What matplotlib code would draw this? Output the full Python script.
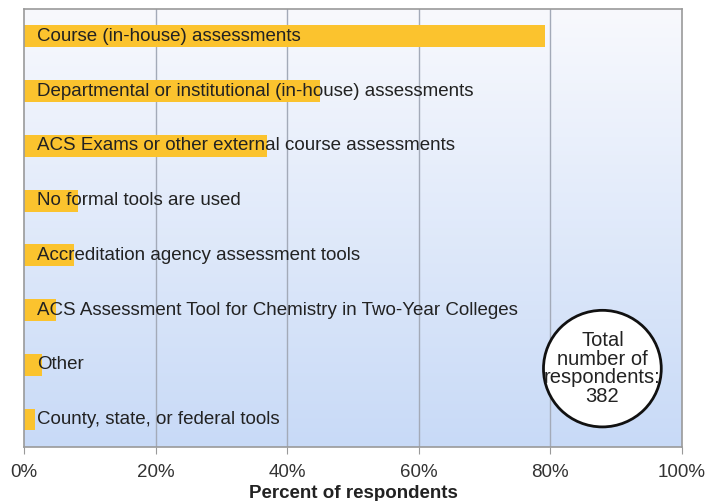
import matplotlib.pyplot as plt
import matplotlib.patches as mpatches
from matplotlib.colors import LinearSegmentedColormap
import numpy as np

plt.rcParams['font.family'] = ['Liberation Sans', 'DejaVu Sans']

categorias = [
    'Course (in-house) assessments',
    'Departmental or institutional (in-house) assessments',
    'ACS Exams or other external course assessments',
    'No formal tools are used',
    'Accreditation agency assessment tools',
    'ACS Assessment Tool for Chemistry in Two-Year Colleges',
    'Other',
    'County, state, or federal tools',
]
percentuais = [79.2, 45.0, 37.0, 8.2, 7.6, 4.9, 2.7, 1.7]
ticks_x = [0, 20, 40, 60, 80, 100]
tick_labels = ['0%', '20%', '40%', '60%', '80%', '100%']
total_resp = 382

fig = plt.figure(figsize=(7.06, 5.01), dpi=100)
ax = fig.add_axes([0.034, 0.108, 0.932, 0.874])

# fundo em degradê (branco em cima, azul claro embaixo)
grad = np.linspace(0, 1, 256).reshape(-1, 1)
cmap = LinearSegmentedColormap.from_list('fundo', ['#f8f9fd', '#c8daf7'])
ax.imshow(grad, aspect='auto', cmap=cmap, extent=[0, 100, 7.5, -0.5], zorder=0)

y = np.arange(len(categorias))
ax.barh(y, percentuais, height=0.4, color='#fbc32e', zorder=2)
for i, cat in enumerate(categorias):
    ax.text(2, y[i], cat, va='center', ha='left', fontsize=13.5, color='#222222', zorder=3)

ax.set_xlim(0, 100)
ax.set_ylim(7.5, -0.5)
ax.set_xticks(ticks_x)
ax.set_xticklabels(tick_labels, fontsize=13.5, color='#333333')
ax.set_yticks([])
ax.tick_params(axis='x', length=5, color='#999999', pad=7)
for x in ticks_x[1:-1]:
    ax.axvline(x, color='#a3aab8', linewidth=1, zorder=1)
for s in ax.spines.values():
    s.set_color('#9a9a9a')
    s.set_linewidth(1.2)

ax.set_xlabel('Percent of respondents', fontsize=13.5, fontweight='bold', color='#222222', labelpad=3)

# círculo com total de respondentes
elipse = mpatches.Ellipse((87.9, 6.07), 17.9, 2.13, facecolor='white', edgecolor='#111111',
                          linewidth=2, zorder=4)
ax.add_patch(elipse)
ax.text(87.9, 6.07, 'Total\nnumber of\nrespondents:\n%d' % total_resp, ha='center', va='center',
        fontsize=14.5, color='#222222', linespacing=0.98, zorder=5)

plt.savefig('out.png', dpi=100)
